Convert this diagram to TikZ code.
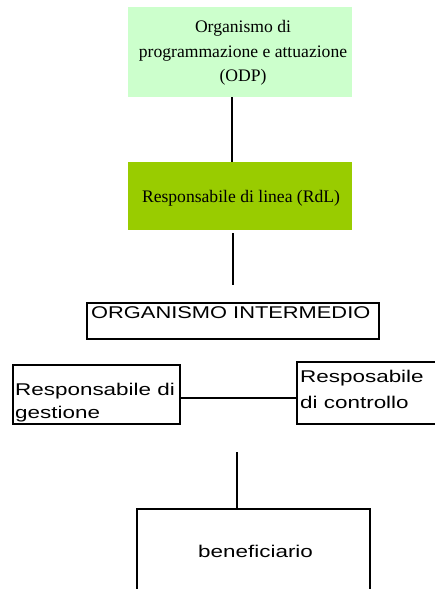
\documentclass[tikz,border=0pt]{standalone}
\usepackage{fontspec}
\setmainfont{Liberation Serif}
\newfontfamily\arialf{Liberation Sans}
\usepackage{graphicx}
\definecolor{lightg}{HTML}{CCFFCC}
\definecolor{limeg}{HTML}{99CC00}
\tikzset{
  greenbox/.style={rectangle, inner sep=0pt},
  seriftxt/.style={inner sep=0pt, align=center, font=\fontsize{17.6}{24.5}\selectfont},
  linebox/.style={draw, line width=1.2pt, rectangle, inner sep=0pt},
  sanstxt/.style={inner sep=0pt, font=\arialf\fontsize{17}{23}\selectfont, anchor=base west},
  conn/.style={line width=1.8pt},
}
\newcommand{\wideT}[2][1.32]{\scalebox{#1}[1]{#2}}
\begin{document}
\begin{tikzpicture}[x=1pt,y=-1pt]
\useasboundingbox (0,0) rectangle (435,589);
\clip (0,0) rectangle (435,589);
\node[greenbox, fill=lightg, minimum width=224pt, minimum height=90pt] (odp) at (240,52) {};
\node[seriftxt] (odpt) at (243,53) {Organismo di\\programmazione e attuazione\\(ODP)};
\node[greenbox, fill=limeg, minimum width=224pt, minimum height=68pt] (rdl) at (240,196) {};
\node[seriftxt, anchor=base] (rdlt) at (241,202) {Responsabile di linea (RdL)};
\node[linebox, minimum width=292pt, minimum height=36pt] (oi) at (233,321) {};
\node[linebox, minimum width=167pt, minimum height=59pt] (rg) at (96.5,394.5) {};
\node[linebox, minimum width=163pt, minimum height=62pt] (rc) at (378.5,393) {};
\node[linebox, minimum width=233pt, minimum height=111pt] (ben) at (253.5,564.5) {};
\node[sanstxt] (oit) at (91,318) {\wideT[1.285]{ORGANISMO INTERMEDIO}};
\node[sanstxt] (rg1) at (15,395) {\wideT{Responsabile di}};
\node[sanstxt] (rg2) at (15,418) {\wideT{gestione}};
\node[sanstxt] (rc1) at (300,382) {\wideT{Resposabile}};
\node[sanstxt] (rc2) at (300,408) {\wideT{di controllo}};
\node[sanstxt] (bent) at (198,557) {\wideT{beneficiario}};
\draw[conn] ([xshift=-8pt]odp.south) -- ([xshift=-8pt]rdl.north);
\coordinate (a1) at (233,233);
\coordinate (a2) at (233,285);
\draw[conn] (a1) -- (a2);
\coordinate (hy) at (0,398);
\draw[conn] (rg.east |- hy) -- (rc.west |- hy);
\coordinate (b1) at (237,452);
\draw[conn] (b1) -- (b1 |- ben.north);
\end{tikzpicture}
\end{document}
